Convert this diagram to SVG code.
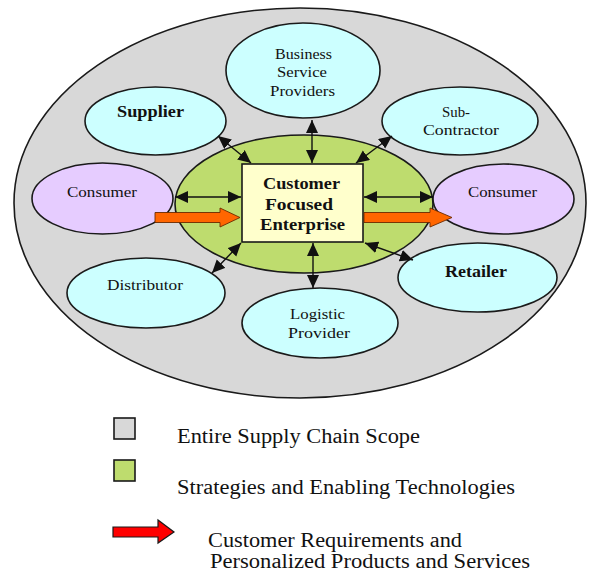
<svg xmlns="http://www.w3.org/2000/svg" width="590" height="579" viewBox="0 0 590 579">
<defs>
<style>
.bg{fill:#ffffff}
.ell{stroke:#1a1a1a;stroke-width:1.6}
.partner{fill:#ccffff}
.consumer{fill:#e6ccff}
.t{font-family:"Liberation Serif","Times New Roman",serif;font-size:15px;fill:#111}
.tb{font-family:"Liberation Serif","Times New Roman",serif;font-size:17px;font-weight:bold;fill:#111}
.lg{font-family:"Liberation Serif","Times New Roman",serif;font-size:20px;fill:#111}
.conn{stroke:#111;stroke-width:1.4;fill:none;marker-start:url(#ah);marker-end:url(#ah)}
.orange{fill:#ff6600;stroke:#6b2a00;stroke-width:0.9}
</style>
<marker id="ah" markerUnits="userSpaceOnUse" markerWidth="14" markerHeight="13" refX="13" refY="6" orient="auto-start-reverse">
<path d="M0,0 L13,6 L0,12 z" fill="#111"/>
</marker>
</defs>
<rect class="bg" x="0" y="0" width="590" height="579"/>

<g id="scope">
<ellipse class="ell" cx="300" cy="203" rx="286" ry="195" fill="#d8d8d8"/>
</g>
<g id="strategies">
<ellipse class="ell" cx="304" cy="204" rx="129" ry="69" fill="#bedc6e"/>
</g>

<g id="business">
<ellipse class="ell partner" cx="303" cy="70.5" rx="77" ry="47.5"/>
<text class="t" x="275" y="59" textLength="57" lengthAdjust="spacingAndGlyphs">Business</text>
<text class="t" x="277" y="77" textLength="50" lengthAdjust="spacingAndGlyphs">Service</text>
<text class="t" x="270" y="96" textLength="65" lengthAdjust="spacingAndGlyphs">Providers</text>
</g>
<g id="supplier">
<ellipse class="ell partner" cx="155.5" cy="121" rx="70.5" ry="34"/>
<text class="tb" x="117" y="117" textLength="67" lengthAdjust="spacingAndGlyphs">Supplier</text>
</g>
<g id="subcontractor">
<ellipse class="ell partner" cx="460" cy="121" rx="78" ry="34"/>
<text class="t" x="442" y="117" textLength="28" lengthAdjust="spacingAndGlyphs">Sub-</text>
<text class="t" x="423" y="135" textLength="76" lengthAdjust="spacingAndGlyphs">Contractor</text>
</g>
<g id="consumer-left">
<ellipse class="ell consumer" cx="102.5" cy="198.5" rx="70.5" ry="35.5"/>
<text class="t" x="67" y="197" textLength="70" lengthAdjust="spacingAndGlyphs">Consumer</text>
</g>
<g id="consumer-right">
<ellipse class="ell consumer" cx="503.5" cy="199" rx="70.5" ry="35"/>
<text class="t" x="468" y="197" textLength="69" lengthAdjust="spacingAndGlyphs">Consumer</text>
</g>
<g id="distributor">
<ellipse class="ell partner" cx="146" cy="293" rx="79" ry="35"/>
<text class="t" x="107" y="290" textLength="76" lengthAdjust="spacingAndGlyphs">Distributor</text>
</g>
<g id="logistic">
<ellipse class="ell partner" cx="320" cy="323" rx="78" ry="35"/>
<text class="t" x="290" y="319" textLength="55" lengthAdjust="spacingAndGlyphs">Logistic</text>
<text class="t" x="288" y="338" textLength="62" lengthAdjust="spacingAndGlyphs">Provider</text>
</g>
<g id="retailer">
<ellipse class="ell partner" cx="477.5" cy="277.5" rx="79.5" ry="34.5"/>
<text class="tb" x="445" y="277" textLength="62" lengthAdjust="spacingAndGlyphs">Retailer</text>
</g>
<g id="enterprise">
<rect x="242" y="164" width="121" height="78" fill="#ffffcc" stroke="#1a1a1a" stroke-width="1.6"/>
<text class="tb" x="263" y="189" textLength="77" lengthAdjust="spacingAndGlyphs">Customer</text>
<text class="tb" x="265" y="210" textLength="68" lengthAdjust="spacingAndGlyphs">Focused</text>
<text class="tb" x="260" y="230" textLength="85" lengthAdjust="spacingAndGlyphs">Enterprise</text>
</g>

<g id="connectors">
<line class="conn" x1="312" y1="120" x2="312" y2="163"/>
<line class="conn" x1="313" y1="243" x2="313" y2="288"/>
<line class="conn" x1="175" y1="197" x2="241" y2="197"/>
<line class="conn" x1="364" y1="197" x2="433" y2="197"/>
<line class="conn" x1="218" y1="136" x2="251" y2="163"/>
<line class="conn" x1="392" y1="136" x2="356" y2="163"/>
<line class="conn" x1="241" y1="243" x2="212" y2="273"/>
<line class="conn" x1="365" y1="243" x2="413" y2="260"/>
<path class="orange" d="M155,212.5 L220,212.5 L220,208 L240,217.5 L220,227 L220,222.5 L155,222.5 z"/>
<path class="orange" d="M364,212.5 L430,212.5 L430,208 L452,217.5 L430,227 L430,222.5 L364,222.5 z"/>
</g>

<g id="legend">
<rect x="114" y="418" width="21" height="21" fill="#d8d8d8" stroke="#1a1a1a" stroke-width="1.6"/>
<text class="lg" x="177" y="443" textLength="243" lengthAdjust="spacingAndGlyphs">Entire Supply Chain Scope</text>
<rect x="114" y="460" width="21" height="21" fill="#bedc6e" stroke="#1a1a1a" stroke-width="1.6"/>
<text class="lg" x="177" y="494" textLength="338" lengthAdjust="spacingAndGlyphs">Strategies and Enabling Technologies</text>
<path d="M113,527 L158,527 L158,520 L174,532 L158,543 L158,537 L113,537 z" fill="#ff0000" stroke="#1a1a1a" stroke-width="1.2"/>
<text class="lg" x="208" y="547" textLength="254" lengthAdjust="spacingAndGlyphs">Customer Requirements and</text>
<text class="lg" x="210" y="568" textLength="320" lengthAdjust="spacingAndGlyphs">Personalized Products and Services</text>
</g>
</svg>
